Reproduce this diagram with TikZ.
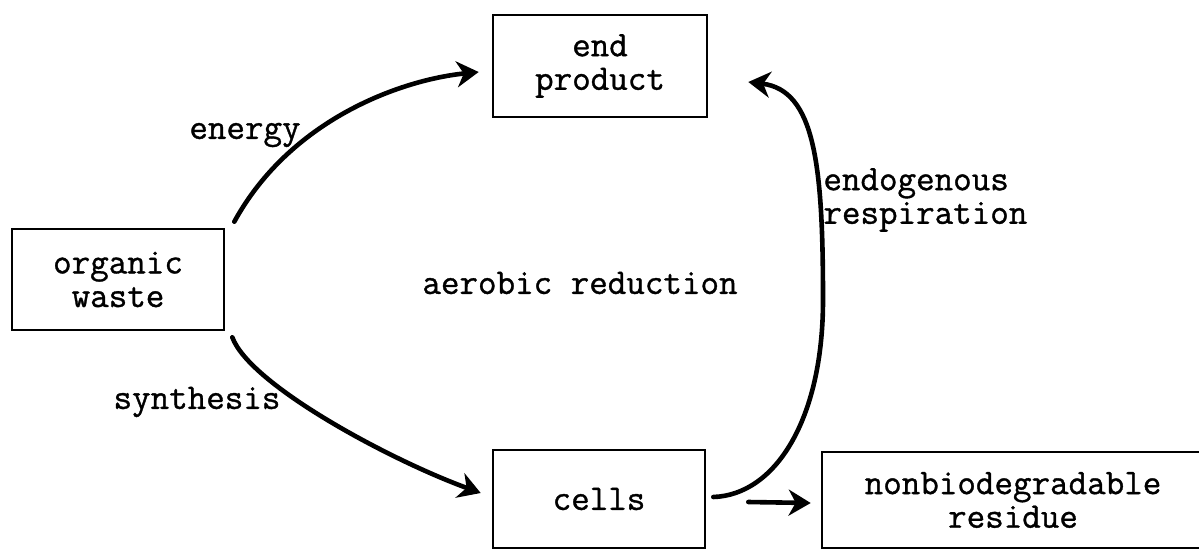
\documentclass[tikz,border=0pt]{standalone}
\usepackage{fontspec}
\newfontfamily\typew{Latin Modern Mono}[FakeBold=1]
\usetikzlibrary{arrows.meta}
\begin{document}
\begin{tikzpicture}[x=0.5pt,y=-0.5pt,
  font=\typew\fontsize{18}{16.8}\selectfont,
  box/.style={draw, line width=1.3pt, align=center, inner sep=0pt},
  flow/.style={line width=2.3pt, line cap=round,
    -{Stealth[length=11pt,width=13pt,inset=3.5pt]}},
  lbl/.style={inner sep=0pt}]
\useasboundingbox (0,0) rectangle (1199,552);

% boxes
\node[box, minimum width=107pt, minimum height=51pt] (endp) at (600,66) {end\\product};
\node[box, minimum width=106pt, minimum height=50.5pt] (org) at (118,279.5) {organic\\waste};
\node[box, minimum width=106pt, minimum height=49pt] (cells) at (599,499) {cells};
\node[box, minimum width=191pt, minimum height=48pt] (resid) at (1013,500) {nonbiodegradable\\residue};

% labels
\node[lbl] (lenergy) at (245,135) {energy};
\node[lbl] (lsynth) at (197,402) {synthesis};
\node[lbl] (laer) at (580,283) {aerobic reduction};
\node[lbl, anchor=west, align=left] (lendo) at (823,200) {endogenous\\respiration};

% connectors
\coordinate (bend) at (823,300);
\draw[flow] ([shift={(9,-6)}]org.north east)
  .. controls (290,120) and (400,80) .. ([shift={(-13,6)}]endp.west);
\draw[flow] ([shift={(7,6)}]org.south east)
  .. controls (250,385) and (390,460) .. ([shift={(-11,-6)}]cells.west);
\draw[flow] ([shift={(7,-2)}]cells.east)
  .. controls (775,495) and (823,420) .. (bend)
  .. controls (823,165) and (815,90) .. ([shift={(40,16)}]endp.east);
\draw[flow] ([shift={(42,3)}]cells.east) -- ([shift={(-10,3)}]resid.west);
\end{tikzpicture}
\end{document}
